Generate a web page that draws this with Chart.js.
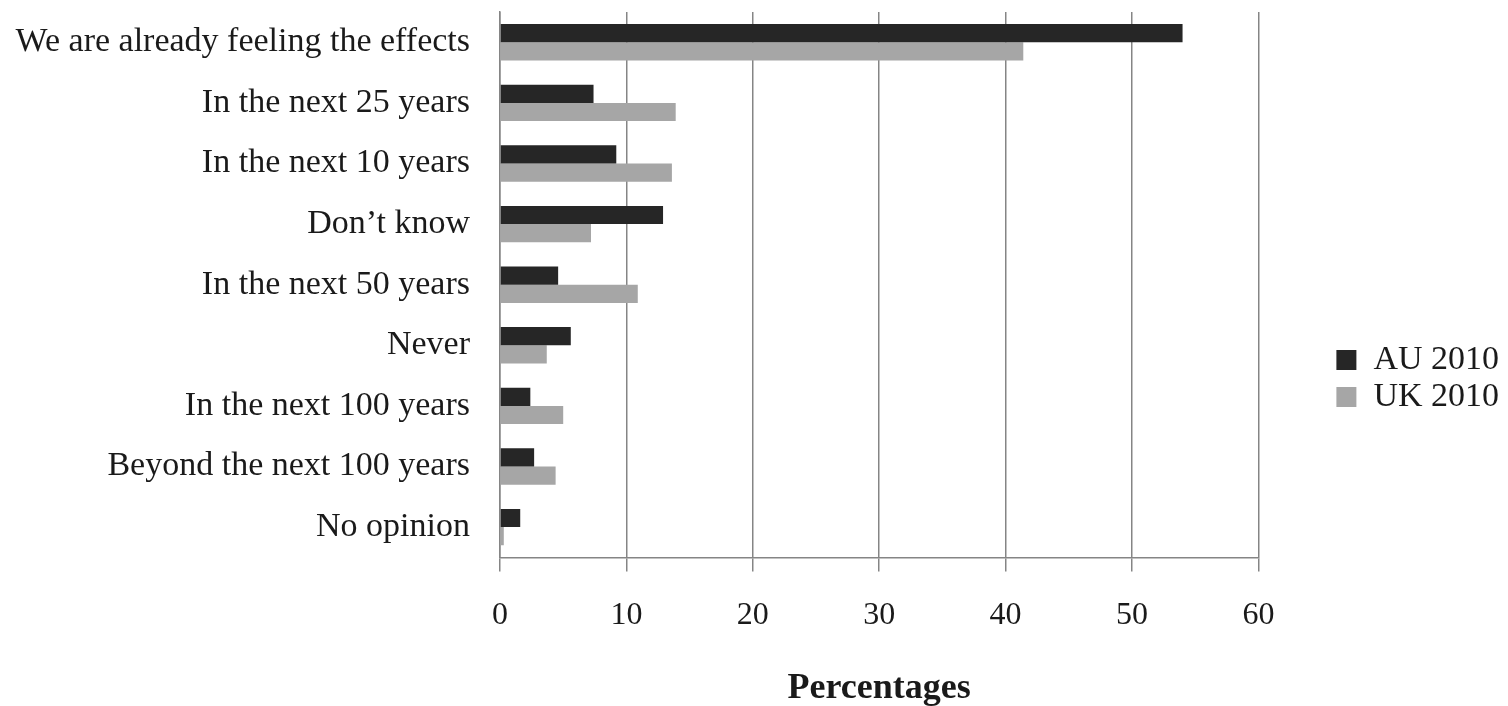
<!DOCTYPE html>
<html>
<head>
<meta charset="utf-8">
<script src="https://cdn.jsdelivr.net/npm/chart.js@4"></script>
<style>
  html, body { margin: 0; padding: 0; background: #fff; }
  #wrap { width: 1508px; height: 706px; position: relative; }
</style>
</head>
<body>
<div id="wrap"><canvas id="barChart"></canvas></div>
<script>
const categories = [
    'We are already feeling the effects',
    'In the next 25 years',
    'In the next 10 years',
    'Don\u2019t know',
    'In the next 50 years',
    'Never',
    'In the next 100 years',
    'Beyond the next 100 years',
    'No opinion'
];
const au2010 = [54.0, 7.4, 9.2, 12.9, 4.6, 5.6, 2.4, 2.7, 1.6];
const uk2010 = [41.4, 13.9, 13.6, 7.2, 10.9, 3.7, 5.0, 4.4, 0.3];
const xTicks = [0, 10, 20, 30, 40, 50, 60];

const serif = "'Liberation Serif', 'Times New Roman', serif";
const gridColor = '#858585';

// push the legend a bit away from the plot, like the original
const legendShift = {
    id: 'legendShift',
    afterLayout(chart) {
        chart.legend.left += 75;
        chart.legend.right += 75;
    }
};

const ctxBar = document.getElementById('barChart').getContext('2d');
let chart = new Chart(ctxBar, {
    type: 'bar',
    data: {
        labels: categories,
        datasets: [{
            label: 'AU 2010',
            data: au2010,
            backgroundColor: '#262626',
            barPercentage: 1,
            categoryPercentage: 0.6
        }, {
            label: 'UK 2010',
            data: uk2010,
            backgroundColor: '#a6a6a6',
            barPercentage: 1,
            categoryPercentage: 0.6
        }]
    },
    options: {
        indexAxis: 'y',
        responsive: true,
        maintainAspectRatio: false,
        animation: false,
        layout: {
            padding: { top: 12, right: 74, bottom: -4, left: 0 }
        },
        plugins: {
            tooltip: { enabled: false },
            legend: {
                position: 'right',
                align: 'center',
                title: {
                    display: true,
                    text: ' ',
                    font: { size: 1 },
                    padding: { top: 34, bottom: 0 }
                },
                labels: {
                    color: '#1a1a1a',
                    boxWidth: 20,
                    boxHeight: 20,
                    padding: 3,
                    font: { family: serif, size: 34 }
                }
            }
        },
        scales: {
            x: {
                min: 0,
                max: 60,
                afterBuildTicks: (scale) => {
                    scale.ticks = xTicks.map(v => ({ value: v }));
                },
                grid: {
                    color: gridColor,
                    lineWidth: 1.5,
                    tickLength: 14,
                    drawTicks: true
                },
                border: { display: true, color: gridColor, width: 1.5 },
                ticks: {
                    color: '#1a1a1a',
                    padding: 25,
                    maxRotation: 0,
                    font: { family: serif, size: 32 }
                },
                title: {
                    display: true,
                    text: 'Percentages',
                    color: '#1a1a1a',
                    font: { family: serif, size: 36, weight: 'bold' },
                    padding: { top: 7, bottom: 0 }
                }
            },
            y: {
                grid: { display: false },
                border: { display: true, color: gridColor, width: 1.5 },
                ticks: {
                    color: '#1a1a1a',
                    padding: 22,
                    autoSkip: false,
                    font: { family: serif, size: 34 }
                },
                afterFit: (scale) => {
                    scale.width = 500;
                    scale.paddingTop = 0;
                    scale.paddingBottom = 0;
                }
            }
        }
    },
    plugins: [legendShift]
});
</script>
</body>
</html>
